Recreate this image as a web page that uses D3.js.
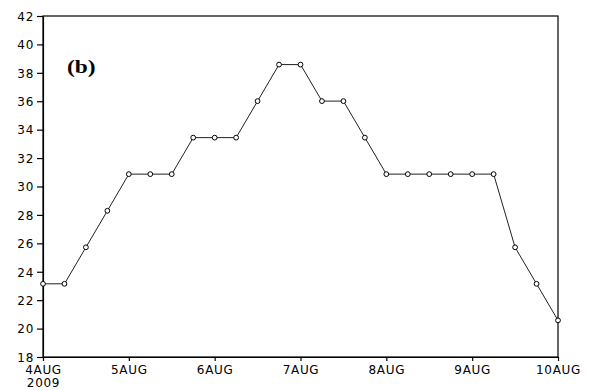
<!DOCTYPE html>
<html>
<head>
<meta charset="utf-8">
<script src="https://cdn.jsdelivr.net/npm/d3@7"></script>
<style>
  html, body { margin: 0; padding: 0; background: #fff; }
  svg { display: block; }
  .tick text { font-family: "DejaVu Sans", sans-serif; font-size: 12px; letter-spacing: 0.7px; fill: #000; }
</style>
</head>
<body>
<svg id="chart" width="590" height="390"></svg>
<script>
// 6-hourly series, 4 Aug 2009 00Z through 10 Aug 2009 00Z
const startTime = "2009-08-04T00:00:00Z";
const stepHours = 6;
const values = [
  23.15, 23.15, 25.72, 28.29, 30.87, 30.87, 30.87, 33.44, 33.44, 33.44,
  36.01, 38.58, 38.58, 36.01, 36.01, 33.44, 30.87, 30.87, 30.87, 30.87,
  30.87, 30.87, 25.72, 23.15, 20.58
];
const yTicks = [18, 20, 22, 24, 26, 28, 30, 32, 34, 36, 38, 40, 42];
const dayTicks = ["2009-08-04", "2009-08-05", "2009-08-06", "2009-08-07", "2009-08-08", "2009-08-09", "2009-08-10"];
const monthLabel = "AUG";
const yearLabel = "2009";
const panelLabel = "(b)";

const t0 = new Date(startTime);
const points = values.map((v, i) => ({ t: new Date(t0.getTime() + i * stepHours * 3600e3), v }));
const tickDates = dayTicks.map(d => new Date(d + "T00:00:00Z"));

const svg = d3.select("#chart");
const plotLeft = 43, plotRight = 558, plotTop = 16, plotBottom = 357;

const x = d3.scaleUtc()
  .domain([tickDates[0], tickDates[tickDates.length - 1]])
  .range([plotLeft, plotRight]);
const y = d3.scaleLinear().domain([18, 42]).range([plotBottom, plotTop]);

// frame
svg.append("rect")
  .attr("x", plotLeft).attr("y", plotTop)
  .attr("width", plotRight - plotLeft).attr("height", plotBottom - plotTop)
  .attr("fill", "none").attr("stroke", "#000").attr("stroke-width", 1.2);

// left axis
const yAxis = svg.append("g")
  .attr("transform", `translate(${plotLeft},0)`)
  .call(d3.axisLeft(y).tickValues(yTicks).tickSize(6).tickPadding(3).tickSizeOuter(0));
yAxis.select(".domain").attr("stroke-width", 1.2);
yAxis.selectAll(".tick line").attr("stroke-width", 1.2);
yAxis.selectAll(".tick text").attr("dy", "0.36em");

// bottom axis
const xAxis = svg.append("g")
  .attr("transform", `translate(0,${plotBottom})`)
  .call(d3.axisBottom(x).tickValues(tickDates).tickSize(4).tickPadding(4).tickSizeOuter(0)
    .tickFormat(d => d.getUTCDate() + monthLabel));
xAxis.select(".domain").attr("stroke-width", 1.2);
xAxis.selectAll(".tick line").attr("stroke-width", 1.2);
xAxis.selectAll(".tick text").attr("dy", "0.72em");
xAxis.select(".tick text")
  .append("tspan")
  .attr("x", 0).attr("dy", "1.1em")
  .text(yearLabel);

// line
svg.append("path")
  .datum(points)
  .attr("fill", "none")
  .attr("stroke", "#222")
  .attr("stroke-width", 1)
  .attr("d", d3.line().x(d => x(d.t)).y(d => y(d.v)));

// markers
svg.append("g").selectAll("circle")
  .data(points)
  .join("circle")
  .attr("cx", d => x(d.t))
  .attr("cy", d => y(d.v))
  .attr("r", 2.4)
  .attr("fill", "#fff")
  .attr("stroke", "#000")
  .attr("stroke-width", 1);

// panel label
svg.append("text")
  .attr("transform", "translate(67,73) scale(1.3,1)")
  .attr("font-family", "'Liberation Serif', 'Times New Roman', serif")
  .attr("font-weight", "bold")
  .attr("font-size", 18)
  .text(panelLabel);
</script>
</body>
</html>
